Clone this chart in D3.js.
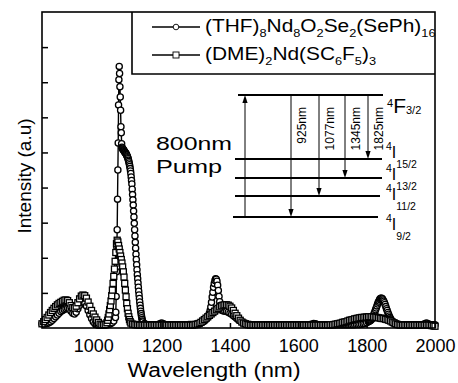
<!DOCTYPE html>
<html><head><meta charset="utf-8">
<script src="https://cdn.jsdelivr.net/npm/d3@7"></script>
<style>
body{margin:0;background:#fff}
svg{display:block}
text{font-family:"Liberation Sans",Arial,Helvetica,sans-serif;fill:#000}
</style>
</head><body>
<svg id="c" width="458" height="383"></svg>
<script>
// ---------------- DATA ----------------
// (THF)8Nd8O2Se2(SePh)16 emission spectrum  [wavelength nm, intensity a.u.]
const thfPoints = [
[850,0.12],[855,0.12],[860,0.12],[865,0.13],[870,0.15],[875,0.18],[880,0.22],[885,0.27],[890,0.32],[895,0.37],
[900,0.42],[905,0.47],[910,0.5],[915,0.53],[920,0.55],[925,0.56],[930,0.54],[935,0.48],[940,0.42],[945,0.4],
[950,0.45],[955,0.55],[960,0.65],[965,0.72],[970,0.75],[975,0.72],[980,0.63],[985,0.5],[990,0.38],[995,0.27],
[1000,0.18],[1005,0.12],[1010,0.09],[1015,0.08],[1020,0.08],[1025,0.08],[1030,0.08],[1035,0.08],[1040,0.09],[1045,0.1],
[1050,0.12],[1055,0.15],[1060,0.2],[1065,0.3],
[1066,0.45],[1067,0.9],[1068,1.6],[1069,2.3],[1070,2.8],[1071,3.67],[1072,4.5],[1073,5.27],[1074,6.35],[1075,7.07],
[1076,7.45],[1077,7.25],[1078,6.87],[1079,6.58],[1080,6.2],[1081,5.73],[1082,5.56],[1083,5.25],[1084,5.15],[1085,5.12],
[1086,5.1],[1087,5.1],[1088,5.08],[1089,5.06],[1090,5.05],[1091,5.03],[1092,5.02],[1093,5.0],[1094,4.99],[1095,4.98],
[1096,4.96],[1097,4.94],[1098,4.92],[1099,4.9],[1100,4.88],[1101,4.85],[1102,4.82],[1103,4.78],[1104,4.74],[1105,4.7],
[1106,4.65],[1107,4.6],[1108,4.54],[1109,4.47],[1110,4.4],[1111,4.3],[1112,4.2],[1113,4.1],[1114,3.95],[1115,3.8],
[1116,3.65],[1117,3.5],[1118,3.33],[1119,3.16],[1120,2.98],[1121,2.8],[1122,2.62],[1123,2.44],[1124,2.27],[1125,2.1],
[1126,1.95],[1127,1.8],[1128,1.66],[1129,1.52],[1130,1.4],[1131,1.28],[1132,1.16],[1133,1.05],[1134,0.94],[1135,0.84],
[1136,0.74],[1137,0.65],[1138,0.56],[1139,0.48],[1140,0.41],[1141,0.35],[1142,0.29],[1143,0.24],[1144,0.2],[1145,0.17],
[1150,0.13],[1155,0.1],[1160,0.09],[1165,0.09],[1170,0.09],[1175,0.09],[1180,0.09],[1185,0.09],[1190,0.1],[1195,0.12],
[1200,0.14],[1205,0.12],[1210,0.1],[1215,0.09],[1220,0.09],[1225,0.09],[1230,0.09],[1235,0.09],[1240,0.09],[1245,0.09],
[1250,0.09],[1255,0.09],[1260,0.09],[1265,0.09],[1270,0.09],[1275,0.09],[1280,0.1],[1285,0.1],[1290,0.1],[1295,0.1],
[1300,0.11],[1305,0.12],[1310,0.13],[1315,0.15],[1320,0.17],[1325,0.2],[1330,0.24],[1335,0.3],
[1338,0.36],[1340,0.42],[1342,0.5],[1344,0.6],[1346,0.73],[1348,0.88],[1350,1.02],[1352,1.16],[1354,1.27],[1356,1.35],
[1358,1.4],[1360,1.39],[1362,1.33],[1364,1.22],[1366,1.07],[1368,0.9],[1370,0.75],[1372,0.64],[1374,0.56],[1376,0.52],
[1378,0.5],[1380,0.49],
[1385,0.48],[1390,0.47],[1395,0.45],[1400,0.42],[1405,0.39],[1410,0.35],[1415,0.31],[1420,0.27],[1425,0.23],[1430,0.2],
[1435,0.17],[1440,0.14],[1445,0.12],[1450,0.11],[1455,0.1],[1460,0.1],[1465,0.09],[1470,0.09],[1475,0.09],[1480,0.09],
[1485,0.09],[1490,0.09],[1495,0.09],[1500,0.09],[1505,0.09],[1510,0.09],[1515,0.09],[1520,0.09],[1525,0.09],[1530,0.09],
[1535,0.09],[1540,0.09],[1545,0.09],[1550,0.09],[1555,0.09],[1560,0.09],[1565,0.09],[1570,0.09],[1575,0.09],[1580,0.09],
[1585,0.09],[1590,0.09],[1595,0.09],[1600,0.09],[1605,0.09],[1610,0.09],[1615,0.09],[1620,0.09],[1625,0.09],[1630,0.09],
[1635,0.1],[1640,0.11],[1645,0.13],[1650,0.12],[1655,0.1],[1660,0.09],[1665,0.09],[1670,0.09],[1675,0.09],[1680,0.09],
[1685,0.09],[1690,0.09],[1695,0.09],[1700,0.09],[1705,0.09],[1710,0.09],[1715,0.09],[1720,0.09],[1725,0.09],[1730,0.09],
[1735,0.09],[1740,0.09],[1745,0.09],[1750,0.09],[1755,0.09],[1760,0.09],[1765,0.09],[1770,0.1],[1775,0.1],[1780,0.1],
[1785,0.11],[1790,0.12],[1795,0.13],[1800,0.15],[1805,0.18],
[1806,0.19],[1808,0.2],[1810,0.21],[1812,0.22],[1814,0.24],[1816,0.27],[1818,0.31],[1820,0.36],[1822,0.41],[1824,0.46],
[1826,0.52],[1828,0.57],[1830,0.63],[1832,0.68],[1834,0.73],[1836,0.77],[1838,0.81],[1840,0.84],[1842,0.85],[1844,0.85],
[1846,0.83],[1848,0.8],[1850,0.76],[1852,0.72],[1854,0.67],[1856,0.61],[1858,0.55],[1860,0.5],[1862,0.44],[1864,0.39],
[1866,0.34],[1868,0.3],[1870,0.26],[1872,0.22],[1874,0.19],[1876,0.16],[1878,0.14],[1880,0.13],
[1885,0.11],[1890,0.1],[1895,0.1],[1900,0.09],[1905,0.09],[1910,0.09],[1915,0.09],[1920,0.09],[1925,0.09],[1930,0.09],
[1935,0.09],[1940,0.09],[1945,0.09],[1950,0.09],[1955,0.09],[1960,0.09],[1965,0.1],[1970,0.12],[1975,0.14],[1980,0.12],
[1985,0.1],[1990,0.09],[1995,0.09],[2000,0.09]
];

// (DME)2Nd(SC6F5)3 emission spectrum  [wavelength nm, intensity a.u.]
const dmePoints = [
[850,0.12],[855,0.18],[860,0.24],[865,0.3],[870,0.37],[875,0.44],[880,0.5],[885,0.56],[890,0.61],[895,0.66],
[900,0.7],[905,0.73],[910,0.76],[915,0.79],[920,0.8],[925,0.78],[930,0.72],[935,0.64],[940,0.58],[945,0.57],
[950,0.62],[955,0.72],[960,0.83],[965,0.91],[970,0.94],[975,0.92],[980,0.85],[985,0.74],[990,0.62],[995,0.5],
[1000,0.4],[1005,0.31],[1010,0.23],[1015,0.16],[1020,0.11],[1025,0.09],[1030,0.09],[1035,0.1],[1040,0.15],
[1042,0.22],[1044,0.3],[1046,0.4],[1048,0.52],[1050,0.64],[1052,0.77],[1054,0.92],[1056,1.08],[1058,1.27],[1060,1.47],
[1062,1.68],[1064,1.9],[1066,2.15],[1068,2.4],[1070,2.5],[1072,2.45],[1074,2.35],[1076,2.25],[1078,2.15],[1080,2.05],
[1082,1.95],[1084,1.85],[1086,1.74],[1088,1.6],[1090,1.45],[1092,1.27],[1094,1.08],[1096,0.89],[1098,0.7],[1100,0.55],
[1102,0.42],[1104,0.32],[1106,0.24],[1108,0.18],[1110,0.14],
[1115,0.11],[1120,0.1],[1125,0.09],[1130,0.09],[1135,0.08],[1140,0.08],[1145,0.08],[1150,0.08],[1155,0.08],[1160,0.08],
[1165,0.08],[1170,0.08],[1175,0.08],[1180,0.08],[1185,0.08],[1190,0.08],[1195,0.08],[1200,0.08],[1205,0.08],[1210,0.08],
[1215,0.08],[1220,0.08],[1225,0.08],[1230,0.08],[1235,0.08],[1240,0.08],[1245,0.08],[1250,0.08],[1255,0.08],[1260,0.08],
[1265,0.08],[1270,0.08],[1275,0.08],[1280,0.08],[1285,0.08],[1290,0.08],[1295,0.09],[1300,0.1],[1305,0.11],[1310,0.13],
[1315,0.16],[1320,0.2],[1325,0.24],[1330,0.28],[1335,0.32],[1340,0.36],[1345,0.4],[1350,0.44],[1355,0.48],[1360,0.52],
[1365,0.56],[1370,0.6],[1375,0.63],[1380,0.65],[1385,0.66],[1390,0.66],[1395,0.65],[1400,0.62],[1405,0.57],[1410,0.5],
[1415,0.42],[1420,0.35],[1425,0.28],[1430,0.22],[1435,0.17],[1440,0.14],[1445,0.12],[1450,0.1],[1455,0.09],[1460,0.08],
[1465,0.08],[1470,0.08],[1475,0.08],[1480,0.08],[1485,0.08],[1490,0.08],[1495,0.08],[1500,0.08],[1505,0.08],[1510,0.08],
[1515,0.08],[1520,0.08],[1525,0.08],[1530,0.08],[1535,0.08],[1540,0.08],[1545,0.08],[1550,0.08],[1555,0.08],[1560,0.08],
[1565,0.08],[1570,0.08],[1575,0.08],[1580,0.08],[1585,0.08],[1590,0.08],[1595,0.08],[1600,0.08],[1605,0.08],[1610,0.08],
[1615,0.08],[1620,0.08],[1625,0.08],[1630,0.08],[1635,0.08],[1640,0.08],[1645,0.08],[1650,0.08],[1655,0.08],[1660,0.08],
[1665,0.08],[1670,0.08],[1675,0.08],[1680,0.08],[1685,0.08],[1690,0.08],[1695,0.09],[1700,0.09],[1705,0.1],[1710,0.11],
[1715,0.12],[1720,0.13],[1725,0.14],[1730,0.16],[1735,0.17],[1740,0.18],[1745,0.2],[1750,0.22],[1755,0.23],[1760,0.24],
[1765,0.26],[1770,0.27],[1775,0.28],[1780,0.29],[1785,0.3],[1790,0.3],[1795,0.31],[1800,0.31],[1805,0.32],[1810,0.32],
[1815,0.32],[1820,0.31],[1825,0.31],[1830,0.3],[1835,0.29],[1840,0.28],[1845,0.27],[1850,0.27],[1855,0.25],[1860,0.24],
[1865,0.22],[1870,0.2],[1875,0.17],[1880,0.15],[1885,0.12],[1890,0.1],[1895,0.09],[1900,0.08],[1905,0.08],[1910,0.08],
[1915,0.08],[1920,0.08],[1925,0.08],[1930,0.08],[1935,0.08],[1940,0.08],[1945,0.08],[1950,0.08],[1955,0.08],[1960,0.08],
[1965,0.08],[1970,0.08],[1975,0.08],[1980,0.08],[1985,0.08],[1990,0.07],[1995,0.06],[2000,0.05]
];

const xTicks = [1000, 1200, 1400, 1600, 1800, 2000];
const yTicks = [1, 2, 3, 4, 5, 6, 7, 8];
const xTitle = "Wavelength (nm)";
const yTitle = "Intensity (a.u)";
// legend labels: [text, 0 normal | 1 subscript]
const thfLabel = [["(THF)",0],["8",1],["Nd",0],["8",1],["O",0],["2",1],["Se",0],["2",1],["(SePh)",0],["16",1]];
const dmeLabel = [["(DME)",0],["2",1],["Nd(SC",0],["6",1],["F",0],["5",1],[")",0],["3",1]];
// energy level inset (schematic level heights)
const levelTerms = [["4","I","9/2"],["4","I","11/2"],["4","I","13/2"],["4","I","15/2"],["4","F","3/2"]];
const levelEnergy = [0, 21, 39, 58, 122];
const emissionLabels = ["925nm", "1077nm", "1345nm", "1825nm"];
const emissionTarget = [0, 1, 2, 3];
const pumpText = ["800nm", "Pump"];

// ---------------- LAYOUT ----------------
const FONT = '"Liberation Sans", Arial, Helvetica, sans-serif';
const P = {l:42, r:435, t:12, b:328};
const svg = d3.select("#c");
const x = d3.scaleLinear().domain([850, 2000]).range([P.l, P.r]);
const y = d3.scaleLinear().domain([0, 9]).range([P.b, P.t]);

// ---------------- SERIES ----------------
const line = d3.line().x(d => x(d[0])).y(d => y(d[1]));
function series(points, shape) {
  const g = svg.append("g");
  g.append("path").datum(points).attr("d", line)
    .attr("fill", "none").attr("stroke", "#000").attr("stroke-width", 1.4);
  if (shape === "circle") {
    g.selectAll("circle").data(points).join("circle")
      .attr("cx", d => x(d[0])).attr("cy", d => y(d[1])).attr("r", 3.1)
      .attr("fill", "#fff").attr("stroke", "#000").attr("stroke-width", 1.3);
  } else {
    g.selectAll("rect").data(points).join("rect")
      .attr("x", d => x(d[0]) - 3).attr("y", d => y(d[1]) - 3)
      .attr("width", 6).attr("height", 6)
      .attr("fill", "#fff").attr("stroke", "#000").attr("stroke-width", 1.3);
  }
}
series(thfPoints, "circle");
series(dmePoints, "square");

// ---------------- AXES ----------------
const gx = svg.append("g").attr("transform", `translate(0,${P.b})`)
  .call(d3.axisBottom(x).tickValues(xTicks).tickSize(-5).tickPadding(11).tickFormat(d3.format("d")));
gx.select(".domain").remove();
gx.attr("font-size", 18).attr("font-family", FONT);
gx.selectAll("line").attr("stroke-width", 1.5);

const gy = svg.append("g").attr("transform", `translate(${P.l},0)`)
  .call(d3.axisRight(y).tickValues(yTicks).tickSize(6).tickFormat(""));
gy.select(".domain").remove();
gy.selectAll("line").attr("stroke-width", 1.5);

svg.append("rect").attr("x", P.l).attr("y", P.t).attr("width", P.r - P.l).attr("height", P.b - P.t)
  .attr("fill", "none").attr("stroke", "#000").attr("stroke-width", 1.6);

svg.append("text").attr("x", 214).attr("y", 377).attr("text-anchor", "middle")
  .attr("font-size", 20).attr("textLength", 173).attr("lengthAdjust", "spacingAndGlyphs").text(xTitle);
svg.append("text").attr("transform", "translate(31,176) rotate(-90)").attr("text-anchor", "middle")
  .attr("font-size", 19).text(yTitle);

// ---------------- RICH TEXT ----------------
function rich(parent, px, py, segs, size, small, subDy, supDy, sx) {
  const t = parent.append("text").attr("font-size", size);
  if (sx) t.attr("transform", `translate(${px},${py}) scale(${sx},1)`);
  else t.attr("x", px).attr("y", py);
  let cur = 0;
  segs.forEach(([s, k]) => {
    const target = k === 1 ? subDy : (k === 2 ? -supDy : 0);
    t.append("tspan").attr("dy", target - cur).attr("font-size", k ? small : size).text(s);
    cur = target;
  });
  return t;
}

// ---------------- LEGEND ----------------
svg.append("path").attr("d", `M132,${P.t}V74H${P.r}`).attr("fill", "none")
  .attr("stroke", "#000").attr("stroke-width", 1.6);
const legRows = [{lab: thfLabel, shape: "circle", cy: 27, ty: 32},
                 {lab: dmeLabel, shape: "square", cy: 55, ty: 60}];
legRows.forEach(r => {
  svg.append("line").attr("x1", 152).attr("x2", 200).attr("y1", r.cy).attr("y2", r.cy)
    .attr("stroke", "#000").attr("stroke-width", 1.5);
  if (r.shape === "circle")
    svg.append("circle").attr("cx", 176).attr("cy", r.cy).attr("r", 2.8)
      .attr("fill", "#fff").attr("stroke", "#000").attr("stroke-width", 0.9);
  else
    svg.append("rect").attr("x", 173).attr("y", r.cy - 3).attr("width", 6).attr("height", 6)
      .attr("fill", "#fff").attr("stroke", "#000").attr("stroke-width", 0.9);
  rich(svg, 205, r.ty, r.lab, 18, 11, 5, 0, 1.16);
});

// ---------------- ENERGY LEVEL INSET ----------------
const ey = d3.scaleLinear().domain([0, 122]).range([217, 95]);
const levelX = [[233, 378], [235, 380], [235, 382], [235, 382], [238, 383]];
const termDy = [13, 4, 2, -1, 18];
const inset = svg.append("g");
levelEnergy.forEach((e, i) => {
  inset.append("line").attr("x1", levelX[i][0]).attr("x2", levelX[i][1])
    .attr("y1", ey(e)).attr("y2", ey(e)).attr("stroke", "#000").attr("stroke-width", 2);
  const tm = levelTerms[i];
  const big = tm[1] === "F";
  rich(inset, big ? 387 : 386, ey(e) + termDy[i],
       [[tm[0], 2], [tm[1], 0], [tm[2], 1]],
       big ? 21 : 16, big ? 11 : 10.5, big ? 1 : 10, big ? 6 : 8);
});
function arrow(ax, y1, y2) {
  const dir = y2 > y1 ? 1 : -1, L = 8, hw = 2.6;
  inset.append("line").attr("x1", ax).attr("x2", ax).attr("y1", y1).attr("y2", y2 - dir * L)
    .attr("stroke", "#000").attr("stroke-width", 1);
  inset.append("path")
    .attr("d", `M${ax},${y2}L${ax - hw},${y2 - dir * L}L${ax + hw},${y2 - dir * L}Z`)
    .attr("fill", "#000");
}
const upperY = ey(levelEnergy[4]);
arrow(245, ey(levelEnergy[0]), upperY);
const emX = [291, 319, 345, 368];
emissionLabels.forEach((lab, i) => {
  arrow(emX[i], upperY, ey(levelEnergy[emissionTarget[i]]));
  inset.append("text").attr("transform", `translate(${emX[i] + 15},107) rotate(-90)`)
    .attr("text-anchor", "end").attr("font-size", 12).text(lab);
});
inset.append("text").attr("x", 156).attr("y", 150).attr("font-size", 19)
  .attr("textLength", 76).attr("lengthAdjust", "spacingAndGlyphs").text(pumpText[0]);
inset.append("text").attr("x", 156).attr("y", 173).attr("font-size", 19)
  .attr("textLength", 66).attr("lengthAdjust", "spacingAndGlyphs").text(pumpText[1]);
</script>
</body></html>
